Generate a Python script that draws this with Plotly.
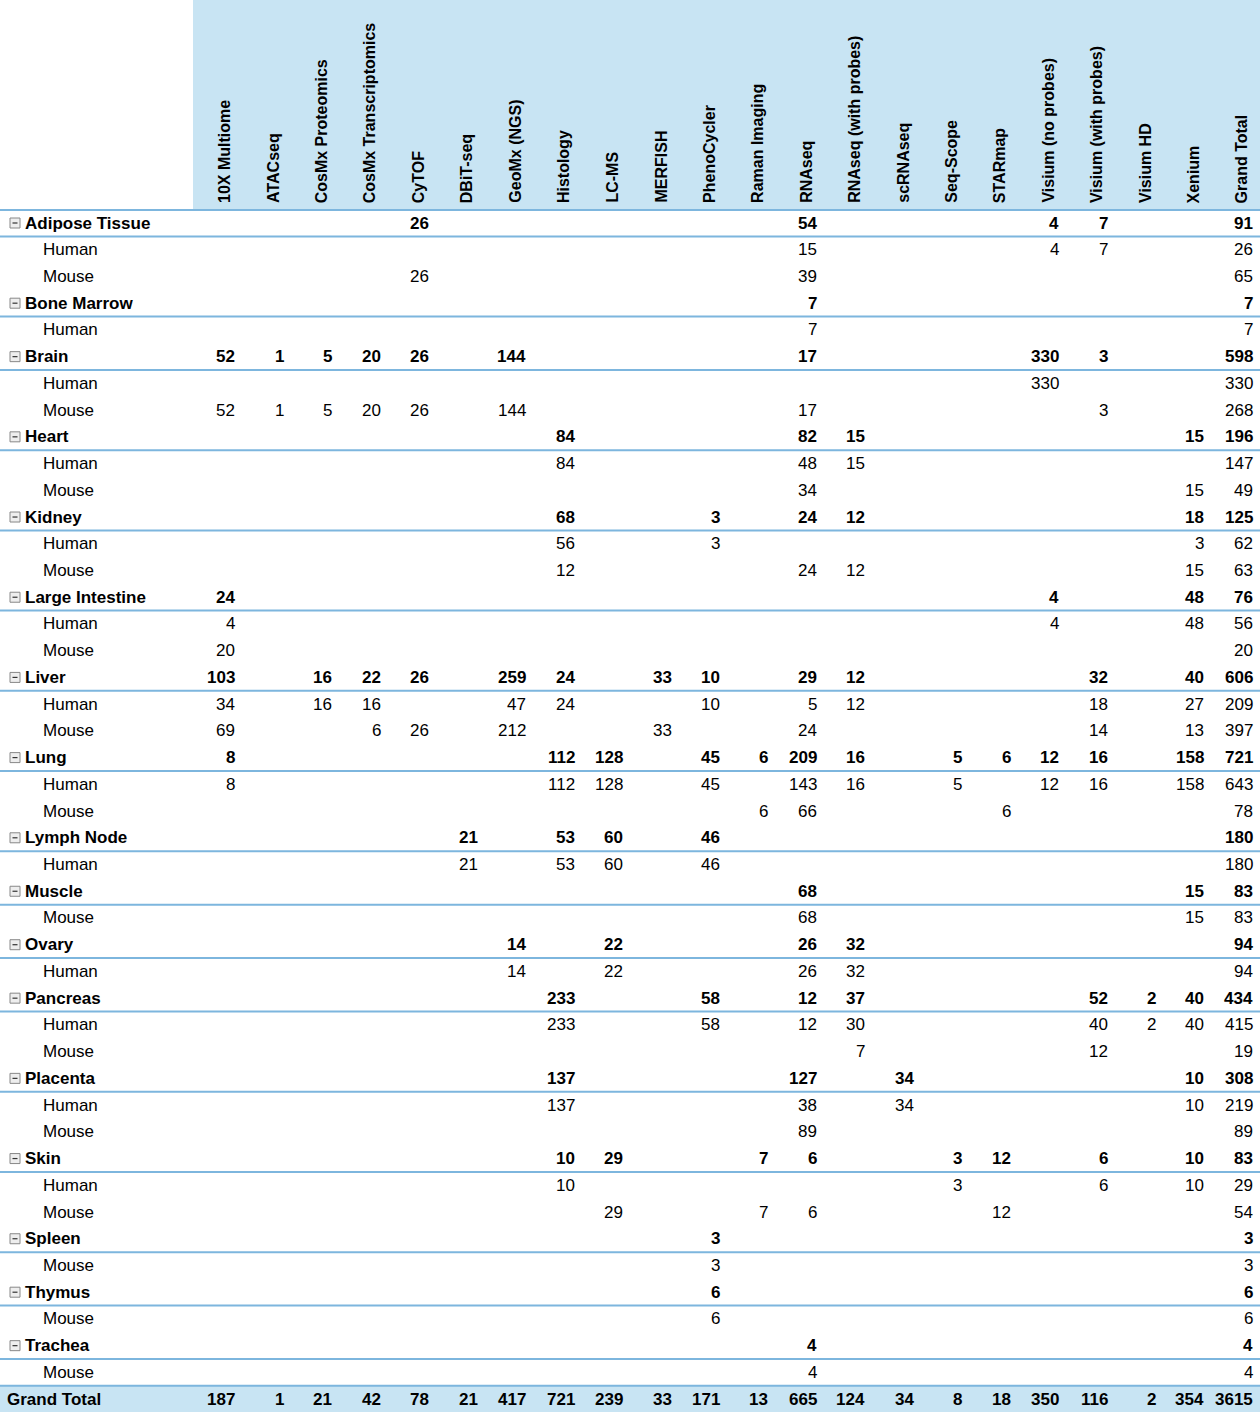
import plotly.graph_objects as go

columns = ["10X Multiome", "ATACseq", "CosMx Proteomics", "CosMx Transcriptomics", "CyTOF",
           "DBiT-seq", "GeoMx (NGS)", "Histology", "LC-MS", "MERFISH", "PhenoCycler",
           "Raman Imaging", "RNAseq", "RNAseq (with probes)", "scRNAseq", "Seq-Scope",
           "STARmap", "Visium (no probes)", "Visium (with probes)", "Visium HD", "Xenium",
           "Grand Total"]

# (label, is_group, {column: value})
rows = [
    ("Adipose Tissue", True, {"CyTOF": 26, "RNAseq": 54, "Visium (no probes)": 4, "Visium (with probes)": 7, "Grand Total": 91}),
    ("Human", False, {"RNAseq": 15, "Visium (no probes)": 4, "Visium (with probes)": 7, "Grand Total": 26}),
    ("Mouse", False, {"CyTOF": 26, "RNAseq": 39, "Grand Total": 65}),
    ("Bone Marrow", True, {"RNAseq": 7, "Grand Total": 7}),
    ("Human", False, {"RNAseq": 7, "Grand Total": 7}),
    ("Brain", True, {"10X Multiome": 52, "ATACseq": 1, "CosMx Proteomics": 5, "CosMx Transcriptomics": 20, "CyTOF": 26, "GeoMx (NGS)": 144, "RNAseq": 17, "Visium (no probes)": 330, "Visium (with probes)": 3, "Grand Total": 598}),
    ("Human", False, {"Visium (no probes)": 330, "Grand Total": 330}),
    ("Mouse", False, {"10X Multiome": 52, "ATACseq": 1, "CosMx Proteomics": 5, "CosMx Transcriptomics": 20, "CyTOF": 26, "GeoMx (NGS)": 144, "RNAseq": 17, "Visium (with probes)": 3, "Grand Total": 268}),
    ("Heart", True, {"Histology": 84, "RNAseq": 82, "RNAseq (with probes)": 15, "Xenium": 15, "Grand Total": 196}),
    ("Human", False, {"Histology": 84, "RNAseq": 48, "RNAseq (with probes)": 15, "Grand Total": 147}),
    ("Mouse", False, {"RNAseq": 34, "Xenium": 15, "Grand Total": 49}),
    ("Kidney", True, {"Histology": 68, "PhenoCycler": 3, "RNAseq": 24, "RNAseq (with probes)": 12, "Xenium": 18, "Grand Total": 125}),
    ("Human", False, {"Histology": 56, "PhenoCycler": 3, "Xenium": 3, "Grand Total": 62}),
    ("Mouse", False, {"Histology": 12, "RNAseq": 24, "RNAseq (with probes)": 12, "Xenium": 15, "Grand Total": 63}),
    ("Large Intestine", True, {"10X Multiome": 24, "Visium (no probes)": 4, "Xenium": 48, "Grand Total": 76}),
    ("Human", False, {"10X Multiome": 4, "Visium (no probes)": 4, "Xenium": 48, "Grand Total": 56}),
    ("Mouse", False, {"10X Multiome": 20, "Grand Total": 20}),
    ("Liver", True, {"10X Multiome": 103, "CosMx Proteomics": 16, "CosMx Transcriptomics": 22, "CyTOF": 26, "GeoMx (NGS)": 259, "Histology": 24, "MERFISH": 33, "PhenoCycler": 10, "RNAseq": 29, "RNAseq (with probes)": 12, "Visium (with probes)": 32, "Xenium": 40, "Grand Total": 606}),
    ("Human", False, {"10X Multiome": 34, "CosMx Proteomics": 16, "CosMx Transcriptomics": 16, "GeoMx (NGS)": 47, "Histology": 24, "PhenoCycler": 10, "RNAseq": 5, "RNAseq (with probes)": 12, "Visium (with probes)": 18, "Xenium": 27, "Grand Total": 209}),
    ("Mouse", False, {"10X Multiome": 69, "CosMx Transcriptomics": 6, "CyTOF": 26, "GeoMx (NGS)": 212, "MERFISH": 33, "RNAseq": 24, "Visium (with probes)": 14, "Xenium": 13, "Grand Total": 397}),
    ("Lung", True, {"10X Multiome": 8, "Histology": 112, "LC-MS": 128, "PhenoCycler": 45, "Raman Imaging": 6, "RNAseq": 209, "RNAseq (with probes)": 16, "Seq-Scope": 5, "STARmap": 6, "Visium (no probes)": 12, "Visium (with probes)": 16, "Xenium": 158, "Grand Total": 721}),
    ("Human", False, {"10X Multiome": 8, "Histology": 112, "LC-MS": 128, "PhenoCycler": 45, "RNAseq": 143, "RNAseq (with probes)": 16, "Seq-Scope": 5, "Visium (no probes)": 12, "Visium (with probes)": 16, "Xenium": 158, "Grand Total": 643}),
    ("Mouse", False, {"Raman Imaging": 6, "RNAseq": 66, "STARmap": 6, "Grand Total": 78}),
    ("Lymph Node", True, {"DBiT-seq": 21, "Histology": 53, "LC-MS": 60, "PhenoCycler": 46, "Grand Total": 180}),
    ("Human", False, {"DBiT-seq": 21, "Histology": 53, "LC-MS": 60, "PhenoCycler": 46, "Grand Total": 180}),
    ("Muscle", True, {"RNAseq": 68, "Xenium": 15, "Grand Total": 83}),
    ("Mouse", False, {"RNAseq": 68, "Xenium": 15, "Grand Total": 83}),
    ("Ovary", True, {"GeoMx (NGS)": 14, "LC-MS": 22, "RNAseq": 26, "RNAseq (with probes)": 32, "Grand Total": 94}),
    ("Human", False, {"GeoMx (NGS)": 14, "LC-MS": 22, "RNAseq": 26, "RNAseq (with probes)": 32, "Grand Total": 94}),
    ("Pancreas", True, {"Histology": 233, "PhenoCycler": 58, "RNAseq": 12, "RNAseq (with probes)": 37, "Visium (with probes)": 52, "Visium HD": 2, "Xenium": 40, "Grand Total": 434}),
    ("Human", False, {"Histology": 233, "PhenoCycler": 58, "RNAseq": 12, "RNAseq (with probes)": 30, "Visium (with probes)": 40, "Visium HD": 2, "Xenium": 40, "Grand Total": 415}),
    ("Mouse", False, {"RNAseq (with probes)": 7, "Visium (with probes)": 12, "Grand Total": 19}),
    ("Placenta", True, {"Histology": 137, "RNAseq": 127, "scRNAseq": 34, "Xenium": 10, "Grand Total": 308}),
    ("Human", False, {"Histology": 137, "RNAseq": 38, "scRNAseq": 34, "Xenium": 10, "Grand Total": 219}),
    ("Mouse", False, {"RNAseq": 89, "Grand Total": 89}),
    ("Skin", True, {"Histology": 10, "LC-MS": 29, "Raman Imaging": 7, "RNAseq": 6, "Seq-Scope": 3, "STARmap": 12, "Visium (with probes)": 6, "Xenium": 10, "Grand Total": 83}),
    ("Human", False, {"Histology": 10, "Seq-Scope": 3, "Visium (with probes)": 6, "Xenium": 10, "Grand Total": 29}),
    ("Mouse", False, {"LC-MS": 29, "Raman Imaging": 7, "RNAseq": 6, "STARmap": 12, "Grand Total": 54}),
    ("Spleen", True, {"PhenoCycler": 3, "Grand Total": 3}),
    ("Mouse", False, {"PhenoCycler": 3, "Grand Total": 3}),
    ("Thymus", True, {"PhenoCycler": 6, "Grand Total": 6}),
    ("Mouse", False, {"PhenoCycler": 6, "Grand Total": 6}),
    ("Trachea", True, {"RNAseq": 4, "Grand Total": 4}),
    ("Mouse", False, {"RNAseq": 4, "Grand Total": 4}),
]
grand_total = [187, 1, 21, 42, 78, 21, 417, 721, 239, 33, 171, 13, 665, 124, 34, 8, 18, 350, 116, 2, 354, 3615]

W, H = 1260, 1412
x0, cw = 193.0, 48.45
row0, rh = 223.0, 26.73
HEAD_BG = "#C8E4F3"
LINE = "#7DB6DE"
FONT = "Liberation Sans, Arial, sans-serif"

ann, shapes = [], []
shapes.append(dict(type="rect", x0=x0, x1=W, y0=0, y1=210, fillcolor=HEAD_BG, line_width=0, layer="below"))
shapes.append(dict(type="line", x0=0, x1=W, y0=210, y1=210, line=dict(color=LINE, width=2)))

for i, c in enumerate(columns):
    xr = x0 + cw * (i + 1)
    ann.append(dict(x=xr - 17, y=205, text="<b>%s</b>" % c, textangle=-90, showarrow=False,
                    xanchor="center", yanchor="bottom", font=dict(size=16, color="black", family=FONT)))

for r, (label, grp, vals) in enumerate(rows):
    y = row0 + rh * r
    if grp:
        ann.append(dict(x=23, y=y, text="<b>%s</b>" % label, showarrow=False, xanchor="left", yanchor="middle",
                        font=dict(size=17, color="black", family=FONT)))
        shapes.append(dict(type="rect", x0=10, x1=20, y0=y - 5, y1=y + 5, line=dict(color="#888", width=1), fillcolor="#eee"))
        shapes.append(dict(type="line", x0=12.5, x1=17.5, y0=y, y1=y, line=dict(color="#333", width=1.2)))
        shapes.append(dict(type="line", x0=0, x1=W, y0=y + 13.4, y1=y + 13.4, line=dict(color=LINE, width=2)))
    else:
        ann.append(dict(x=41, y=y, text=label, showarrow=False, xanchor="left", yanchor="middle",
                        font=dict(size=17, color="black", family=FONT)))
    for i, c in enumerate(columns):
        if c in vals:
            xr = x0 + cw * (i + 1)
            t = "<b>%d</b>" % vals[c] if grp else "%d" % vals[c]
            ann.append(dict(x=xr - 4, y=y, text=t, showarrow=False, xanchor="right", yanchor="middle",
                            font=dict(size=17, color="black", family=FONT)))

yg = row0 + rh * len(rows)
shapes.append(dict(type="rect", x0=0, x1=W, y0=yg - 13.4, y1=H, fillcolor=HEAD_BG, line_width=0, layer="below"))
shapes.append(dict(type="line", x0=0, x1=W, y0=yg - 13.4, y1=yg - 13.4, line=dict(color=LINE, width=2)))
ann.append(dict(x=5, y=yg, text="<b>Grand Total</b>", showarrow=False, xanchor="left", yanchor="middle",
                font=dict(size=17, color="black", family=FONT)))
for i, v in enumerate(grand_total):
    xr = x0 + cw * (i + 1)
    ann.append(dict(x=xr - 4, y=yg, text="<b>%d</b>" % v, showarrow=False, xanchor="right", yanchor="middle",
                    font=dict(size=17, color="black", family=FONT)))

fig = go.Figure()
fig.update_layout(width=W, height=H, margin=dict(l=0, r=0, t=0, b=0), plot_bgcolor="white", paper_bgcolor="white",
                  xaxis=dict(range=[0, W], visible=False, fixedrange=True),
                  yaxis=dict(range=[H, 0], visible=False, fixedrange=True),
                  annotations=ann, shapes=shapes, showlegend=False)
fig.write_html("out.html", config={"displayModeBar": False},
               post_script="document.body.style.margin='0';document.body.style.overflow='hidden';")
